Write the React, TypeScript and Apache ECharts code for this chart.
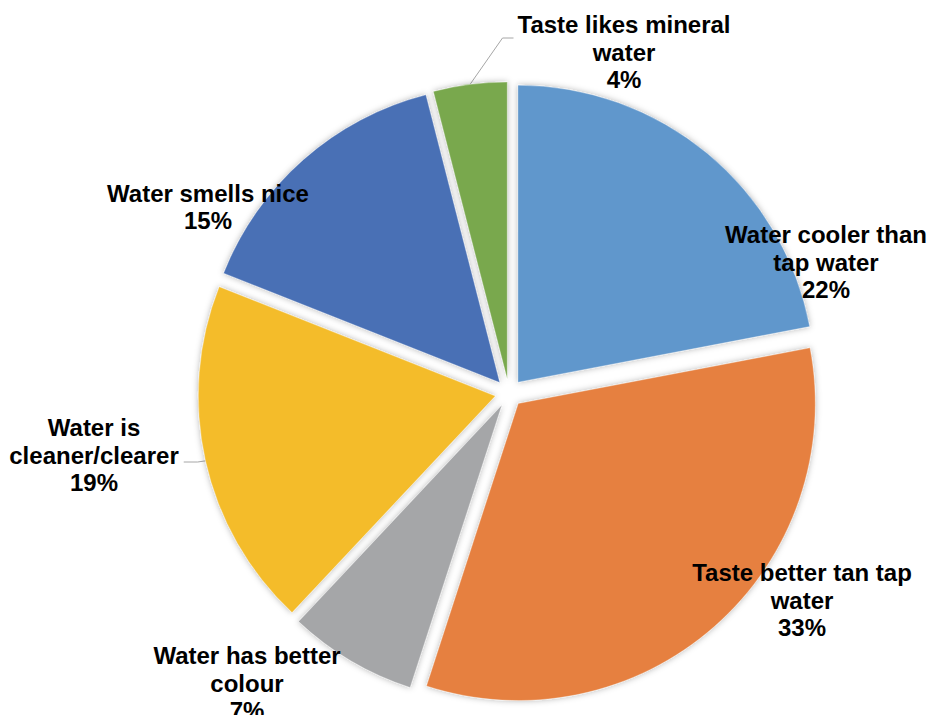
import React, { useEffect, useRef } from 'react';
import * as echarts from 'echarts';

// ---- data ----
const categories = [
  'Water cooler than tap water',
  'Taste better tan tap water',
  'Water has better colour',
  'Water is cleaner/clearer',
  'Water smells nice',
  'Taste likes mineral water',
];
const labelTexts = [
  'Water cooler than\ntap water',
  'Taste better tan tap\nwater',
  'Water has better\ncolour',
  'Water is\ncleaner/clearer',
  'Water smells nice',
  'Taste likes mineral\nwater',
];
const values = [22, 33, 7, 19, 15, 4];
const colors = ['#6097CC', '#E6803F', '#A5A6A8', '#F4BC2B', '#486FB5', '#79A84E'];

// ---- layout ----
const CENTER = [509, 393];
const RADIUS = 297;
const OFFSET = 14;
type LabelPlace = { x: number; y: number; lineY?: number; side?: 'left' | 'right' };
const labelPlaces: LabelPlace[] = [
  { x: 826, y: 262 },
  { x: 802, y: 600 },
  { x: 247, y: 683 },
  { x: 94, y: 455, lineY: 462, side: 'right' },
  { x: 208, y: 207 },
  { x: 624, y: 52, lineY: 38, side: 'left' },
];

export default function App() {
  const ref = useRef<HTMLDivElement>(null);
  useEffect(() => {
    if (!ref.current) return;
    const chart = echarts.init(ref.current, undefined, { renderer: 'svg' });
    const total = values.reduce((a, b) => a + b, 0);
    const midAngles: number[] = [];
    let acc = 0;
    values.forEach((v) => {
      midAngles.push(((acc + v / 2) / total) * 360);
      acc += v;
    });

    // one pie series per exploded slice: identical angles, centre shifted outward
    const series = categories.map((_, k) => {
      const a = (midAngles[k] * Math.PI) / 180;
      const dx = Math.sin(a);
      const dy = -Math.cos(a);
      const place = labelPlaces[k];
      return {
        type: 'pie',
        center: [CENTER[0] + dx * OFFSET, CENTER[1] + dy * OFFSET],
        radius: RADIUS,
        startAngle: 90,
        clockwise: true,
        avoidLabelOverlap: false,
        silent: true,
        emphasis: { disabled: true },
        label: {
          show: true,
          position: 'outside',
          color: '#000',
          fontFamily: '"Liberation Sans", Arial, sans-serif',
          fontWeight: 'bold',
          fontSize: 24,
          lineHeight: 27.5,
          align: 'center',
          formatter: (p: any) => `${labelTexts[p.dataIndex]}\n${Math.round(p.percent)}%`,
        },
        labelLine: {
          show: true,
          length: 10,
          length2: 10,
          lineStyle: { color: '#A6A6A6', width: 1 },
        },
        labelLayout: (params: any) => {
          const out: any = { x: place.x, y: place.y, align: 'center', verticalAlign: 'middle' };
          if (place.lineY != null) {
            const ax = CENTER[0] + dx * (RADIUS + OFFSET);
            const ay = CENTER[1] + dy * (RADIUS + OFFSET);
            const w = params.labelRect.width;
            const endX = place.side === 'left' ? place.x - w / 2 - 4 : place.x + w / 2 + 5;
            const elbowX = place.side === 'left' ? endX - 11 : endX + 14;
            out.labelLinePoints = [
              [ax, ay],
              [elbowX, place.lineY],
              [endX, place.lineY],
            ];
          }
          return out;
        },
        data: categories.map((name, i) =>
          i === k
            ? {
                name,
                value: values[i],
                itemStyle: {
                  color: colors[i],
                  borderColor: 'rgba(255,255,255,0.6)',
                  borderWidth: 0.5,
                  shadowBlur: 6,
                  shadowColor: 'rgba(0,0,0,0.3)',
                },
                labelLine: { show: place.lineY != null },
              }
            : {
                name,
                value: values[i],
                itemStyle: { color: 'rgba(0,0,0,0)', borderWidth: 0, shadowBlur: 0 },
                label: { show: false },
                labelLine: { show: false },
              }
        ),
      };
    });

    chart.setOption({ animation: false, series });
    return () => chart.dispose();
  }, []);
  return (
    <div
      ref={ref}
      style={{ position: 'fixed', left: 0, top: 0, width: 928, height: 715, background: '#fff' }}
    />
  );
}
